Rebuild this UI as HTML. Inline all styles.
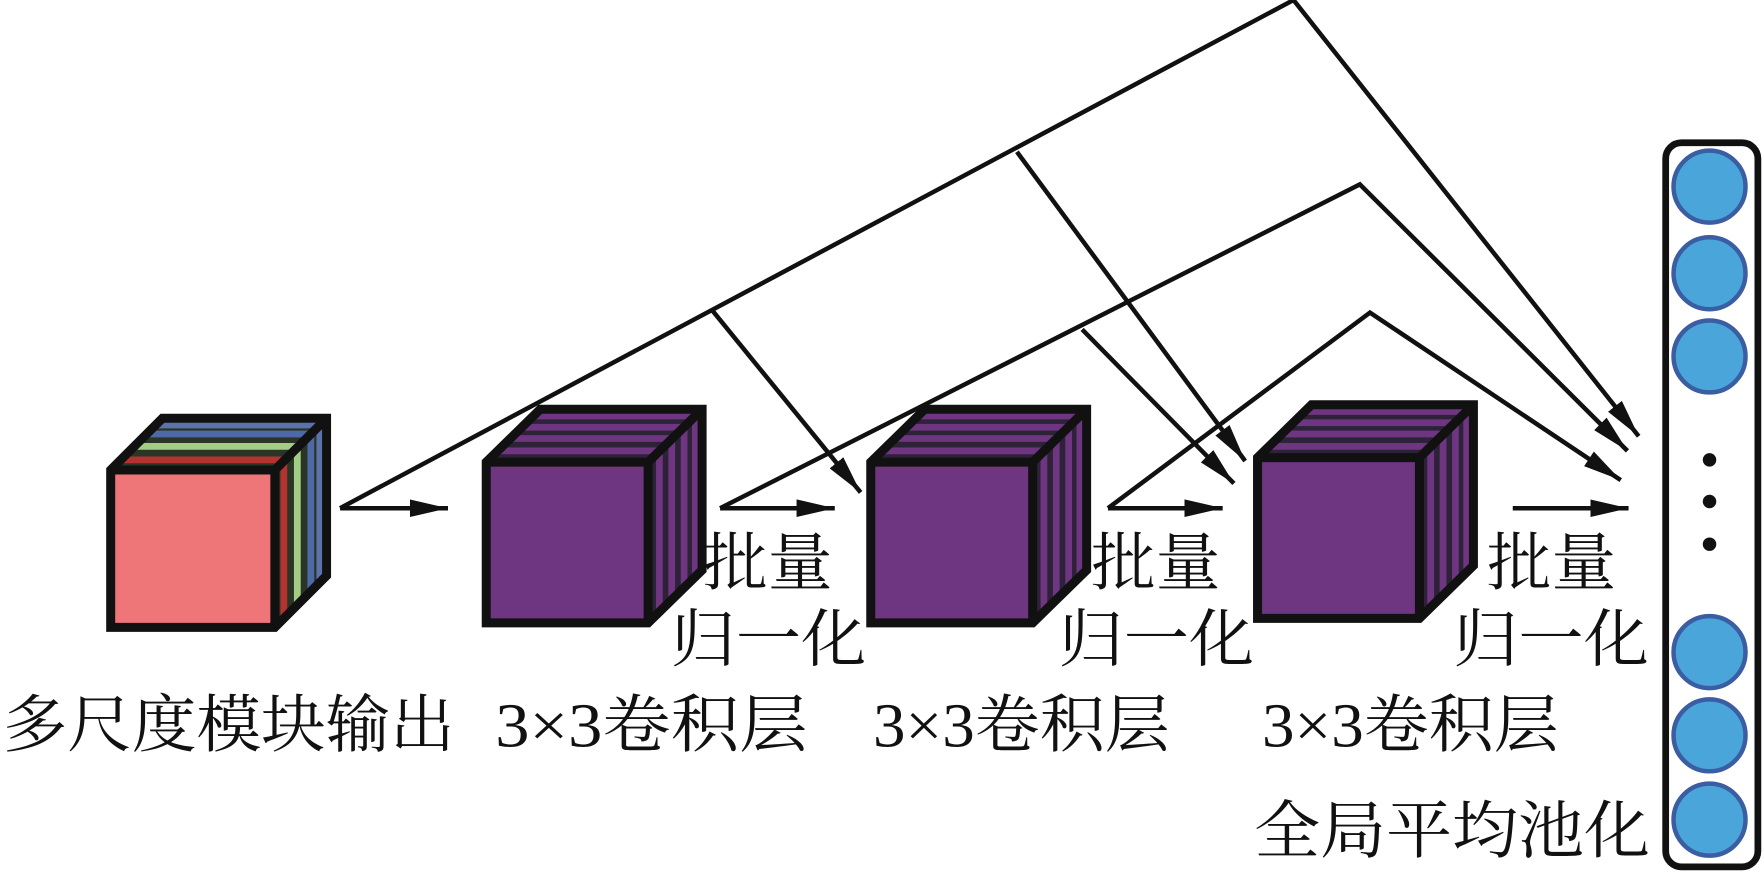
<!DOCTYPE html>
<html><head><meta charset="utf-8">
<style>
html,body{margin:0;padding:0;background:#fff;}
svg{display:block;}
text{font-family:"Liberation Serif","Noto Serif CJK SC",serif;fill:#111;}
</style></head>
<body>
<svg width="1764" height="877" viewBox="0 0 1568 780" xmlns="http://www.w3.org/2000/svg">
<defs>
<marker id="ah" viewBox="0 0 10 10" refX="10" refY="5" markerWidth="8.5" markerHeight="8.5" orient="auto" markerUnits="strokeWidth">
<path d="M0,2.7 L10,5 L0,7.3 z" fill="#111"/>
</marker>
<g id="pcube">
  <polygon points="0,0 48,-47 192,-47 144,0" fill="#2d2238"/>
  <g stroke="#6e3580" stroke-width="6">
    <line x1="10" y1="-10" x2="152" y2="-10"/>
    <line x1="21" y1="-21" x2="163" y2="-21"/>
    <line x1="32" y1="-31" x2="174" y2="-31"/>
    <line x1="42" y1="-41" x2="184" y2="-41"/>
  </g>
  <polygon points="144,0 192,-47 192,96 144,143" fill="#2d2238"/>
  <g stroke="#6e3580" stroke-width="6">
    <line x1="154" y1="-8" x2="154" y2="132"/>
    <line x1="165" y1="-19" x2="165" y2="121"/>
    <line x1="176" y1="-30" x2="176" y2="110"/>
    <line x1="186" y1="-40" x2="186" y2="100"/>
  </g>
  <rect x="0" y="0" width="144" height="143" fill="#6e3580"/>
  <g fill="none" stroke="#111" stroke-width="8" stroke-linejoin="miter">
    <polygon points="0,0 48,-47 192,-47 192,96 144,143 0,143"/>
    <polyline points="0,0 144,0 192,-47"/>
    <line x1="144" y1="0" x2="144" y2="143"/>
  </g>
</g>
</defs>

<!-- red cube -->
<g transform="translate(98,418)">
  <polygon points="0,0 46,-46 192,-46 146,0" fill="#2b3526"/>
  <g stroke-width="6">
    <line x1="9" y1="-9" x2="155" y2="-9" stroke="#b5332e"/>
    <line x1="21" y1="-21" x2="167" y2="-21" stroke="#a3cd84"/>
    <line x1="33" y1="-32" x2="179" y2="-32" stroke="#4d6aa6"/>
    <line x1="41" y1="-40" x2="187" y2="-40" stroke="#5b73ad"/>
  </g>
  <polygon points="146,0 192,-46 192,94 146,140" fill="#2b3526"/>
  <g stroke-width="6">
    <line x1="154" y1="-8" x2="154" y2="132" stroke="#b5332e"/>
    <line x1="166" y1="-20" x2="166" y2="120" stroke="#a3cd84"/>
    <line x1="178" y1="-32" x2="178" y2="108" stroke="#4d6aa6"/>
    <line x1="186" y1="-40" x2="186" y2="100" stroke="#5b73ad"/>
  </g>
  <rect x="0" y="0" width="146" height="140" fill="#ee7679"/>
  <g fill="none" stroke="#111" stroke-width="8">
    <polygon points="0,0 46,-46 192,-46 192,94 146,140 0,140"/>
    <polyline points="0,0 146,0 192,-46"/>
    <line x1="146" y1="0" x2="146" y2="140"/>
  </g>
</g>

<use href="#pcube" x="432" y="411"/>
<use href="#pcube" x="774" y="411"/>
<use href="#pcube" x="1118" y="407"/>

<!-- connectors -->
<g fill="none" stroke="#111" stroke-width="4">
  <line x1="302" y1="452" x2="398" y2="452" marker-end="url(#ah)"/>
  <line x1="640" y1="452" x2="742" y2="452" marker-end="url(#ah)"/>
  <line x1="985" y1="452" x2="1087" y2="452" marker-end="url(#ah)"/>
  <line x1="1345" y1="452" x2="1448" y2="452" marker-end="url(#ah)"/>
  <polyline points="302,452 1150,0 1457,388" marker-end="url(#ah)"/>
  <line x1="633" y1="276" x2="765" y2="438" marker-end="url(#ah)"/>
  <line x1="904" y1="135" x2="1107" y2="410" marker-end="url(#ah)"/>
  <polyline points="640,452 1209,164 1447,401" marker-end="url(#ah)"/>
  <line x1="962" y1="293" x2="1097" y2="430" marker-end="url(#ah)"/>
  <polyline points="985,452 1218,278 1441,427" marker-end="url(#ah)"/>
</g>

<!-- output box -->
<rect x="1481" y="127" width="82" height="644" rx="14" fill="#fff" stroke="#111" stroke-width="6"/>
<g fill="#4aa6da" stroke="#3b5ea3" stroke-width="4">
  <circle cx="1520" cy="166" r="32"/>
  <circle cx="1520" cy="243" r="32"/>
  <circle cx="1520" cy="317" r="32"/>
  <circle cx="1520" cy="580" r="32"/>
  <circle cx="1520" cy="654" r="32"/>
  <circle cx="1520" cy="729" r="32"/>
</g>
<g fill="#111">
  <circle cx="1520" cy="409" r="6"/>
  <circle cx="1520" cy="446" r="6"/>
  <circle cx="1520" cy="484" r="6"/>
</g>

<!-- labels -->
<g font-size="56">
  <text x="625" y="520" textLength="115" lengthAdjust="spacingAndGlyphs">批量</text>
  <text x="596" y="588" textLength="174" lengthAdjust="spacingAndGlyphs">归一化</text>
  <text x="970" y="520" textLength="115" lengthAdjust="spacingAndGlyphs">批量</text>
  <text x="941" y="588" textLength="174" lengthAdjust="spacingAndGlyphs">归一化</text>
  <text x="1322" y="520" textLength="115" lengthAdjust="spacingAndGlyphs">批量</text>
  <text x="1292" y="588" textLength="174" lengthAdjust="spacingAndGlyphs">归一化</text>
  <text x="2" y="664" textLength="402" lengthAdjust="spacingAndGlyphs">多尺度模块输出</text>
  <text x="440" y="664" textLength="278" lengthAdjust="spacingAndGlyphs">3×3卷积层</text>
  <text x="776" y="664" textLength="264" lengthAdjust="spacingAndGlyphs">3×3卷积层</text>
  <text x="1122" y="664" textLength="264" lengthAdjust="spacingAndGlyphs">3×3卷积层</text>
  <text x="1115" y="758" textLength="352" lengthAdjust="spacingAndGlyphs">全局平均池化</text>
</g>
</svg>
</body></html>
